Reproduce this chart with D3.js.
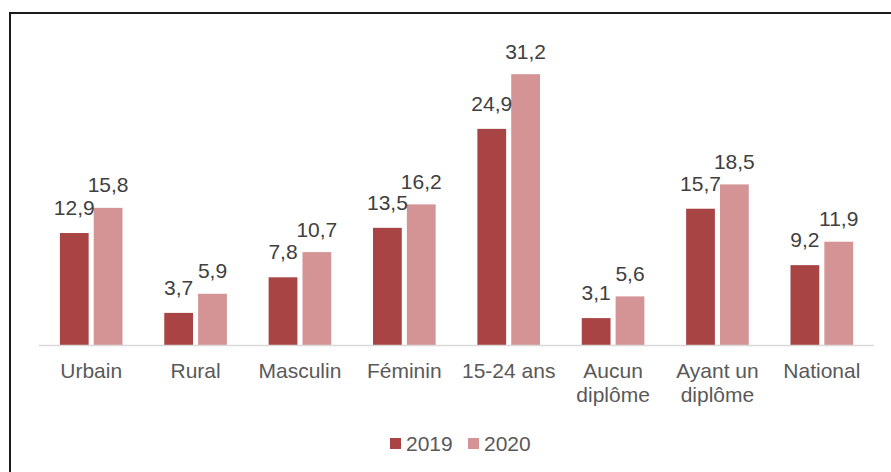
<!DOCTYPE html>
<html>
<head>
<meta charset="utf-8">
<script src="https://cdn.jsdelivr.net/npm/d3@7"></script>
<style>
  body { margin: 0; background: #fff; }
  svg { display: block; font-family: "Liberation Sans", Arial, sans-serif; }
</style>
</head>
<body>
<div id="chart"></div>
<script>
// Data
var categories = ["Urbain", "Rural", "Masculin", "Féminin", "15-24 ans", "Aucun diplôme", "Ayant un diplôme", "National"];
var categoryLines = [["Urbain"], ["Rural"], ["Masculin"], ["Féminin"], ["15-24 ans"], ["Aucun", "diplôme"], ["Ayant un", "diplôme"], ["National"]];
var seriesNames = ["2019", "2020"];
var values2019 = [12.9, 3.7, 7.8, 13.5, 24.9, 3.1, 15.7, 9.2];
var values2020 = [15.8, 5.9, 10.7, 16.2, 31.2, 5.6, 18.5, 11.9];

var colors = { "2019": "#A84544", "2020": "#D49394" };

var svgWidth = 891;
var svgHeight = 472;

var svg = d3.select("#chart")
  .append("svg")
  .attr("width", svgWidth)
  .attr("height", svgHeight);

// frame
svg.append("path")
  .attr("d", "M10,472 V13 H891")
  .attr("fill", "none")
  .attr("stroke", "#1a1a1a")
  .attr("stroke-width", 2);

var baseline = 345;

var x0 = d3.scaleBand()
  .domain(categories)
  .range([39, 874])
  .paddingInner(0.4)
  .paddingOuter(0.2);

var x1 = d3.scaleBand()
  .domain(seriesNames)
  .range([0, x0.bandwidth()])
  .paddingInner(0.15);

var y = d3.scaleLinear()
  .domain([0, 35])
  .range([baseline, baseline - 35 * 8.68]);

var rows = categories.map(function(c, i) {
  return { cat: c, lines: categoryLines[i], vals: [
    { s: "2019", v: values2019[i] },
    { s: "2020", v: values2020[i] }
  ]};
});

var groups = svg.selectAll("g.cat")
  .data(rows)
  .enter()
  .append("g")
  .attr("class", "cat")
  .attr("transform", d => `translate(${x0(d.cat)},0)`);

groups.selectAll("rect")
  .data(d => d.vals)
  .enter()
  .append("rect")
  .attr("x", d => x1(d.s))
  .attr("width", x1.bandwidth())
  .attr("y", d => y(d.v))
  .attr("height", d => y(0) - y(d.v))
  .attr("fill", d => colors[d.s]);

groups.selectAll("text.val")
  .data(d => d.vals)
  .enter()
  .append("text")
  .attr("class", "val")
  .attr("x", d => x1(d.s) + x1.bandwidth() / 2)
  .attr("y", d => y(d.v) - (d.s == "2019" ? 18 : 15.5))
  .attr("text-anchor", "middle")
  .attr("font-size", "21px")
  .attr("fill", "#404040")
  .text(d => d3.format(".1f")(d.v).replace(".", ","));

// x axis line
svg.append("line")
  .attr("x1", 39).attr("x2", 874)
  .attr("y1", baseline + 0.5).attr("y2", baseline + 0.5)
  .attr("stroke", "#D9D9D9")
  .attr("stroke-width", 1.5);

// category labels
var labels = svg.selectAll("text.cat")
  .data(rows)
  .enter()
  .append("text")
  .attr("class", "cat")
  .attr("text-anchor", "middle")
  .attr("font-size", "21px")
  .attr("fill", "#595959");

labels.selectAll("tspan")
  .data(d => d.lines.map(l => ({ l: l, cx: x0(d.cat) + x0.bandwidth() / 2 })))
  .enter()
  .append("tspan")
  .attr("x", d => d.cx)
  .attr("y", (d, i) => 378 + i * 23.5)
  .text(d => d.l);

// legend
var legend = svg.append("g")
  .selectAll("g")
  .data(seriesNames)
  .enter()
  .append("g")
  .attr("transform", (d, i) => `translate(${390 + i * 78},438)`);

legend.append("rect")
  .attr("width", 11)
  .attr("height", 11)
  .attr("fill", d => colors[d]);

legend.append("text")
  .attr("x", 16)
  .attr("y", 12.5)
  .attr("font-size", "21px")
  .attr("fill", "#595959")
  .text(d => d);
</script>
</body>
</html>
